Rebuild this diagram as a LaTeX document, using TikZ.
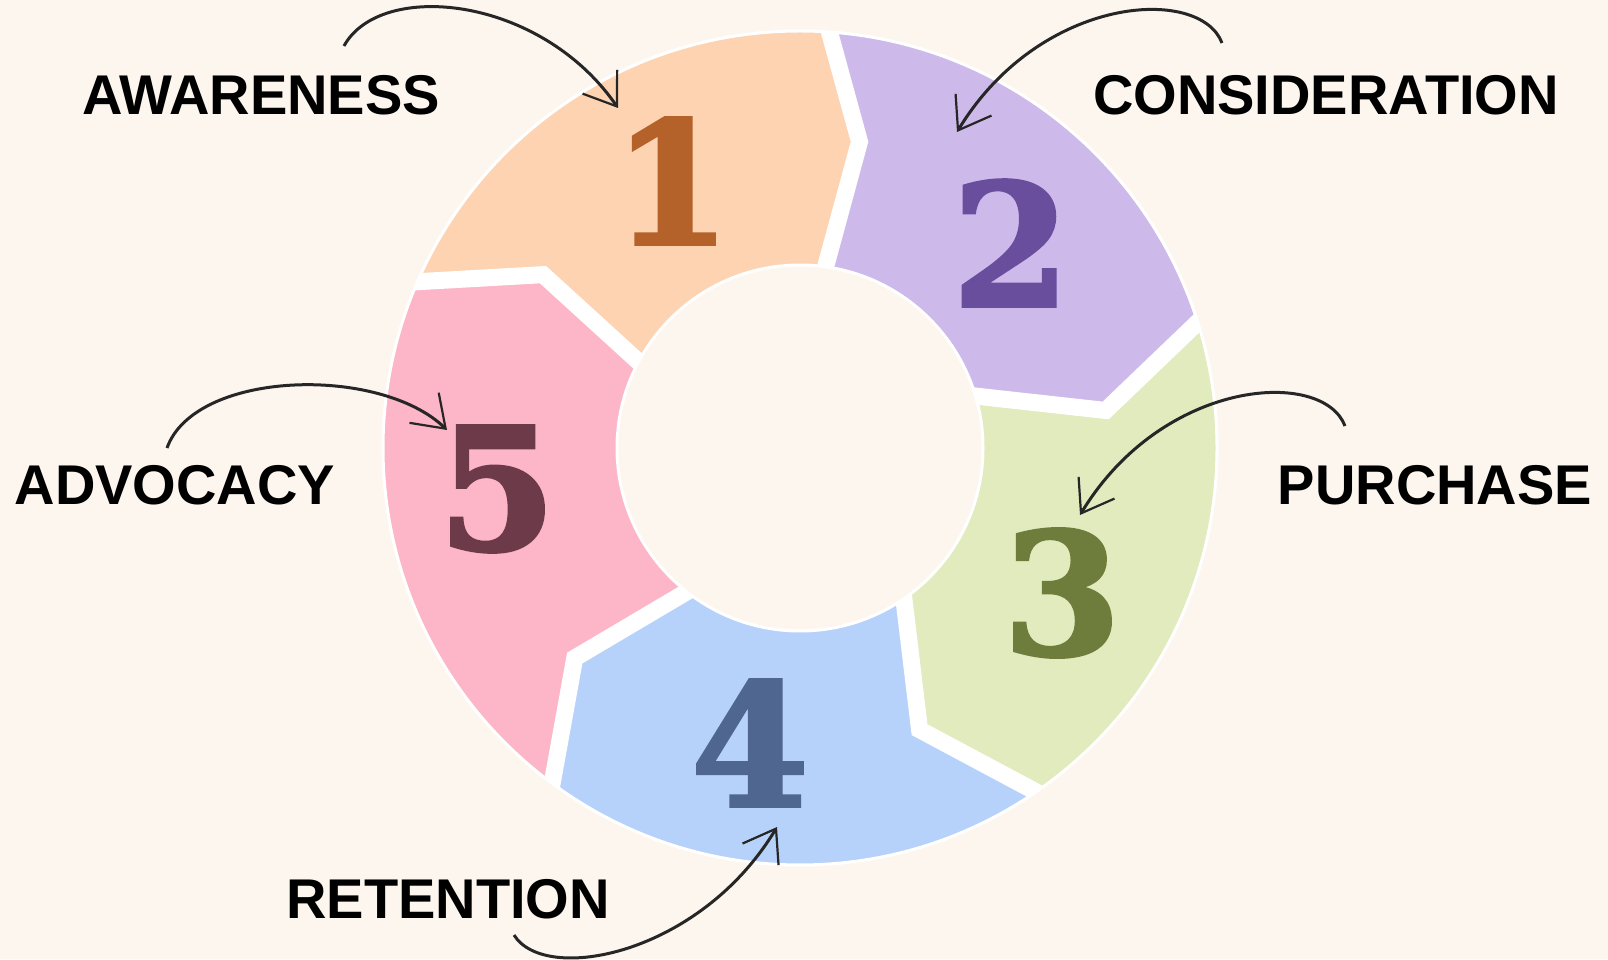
\documentclass[tikz,border=0pt]{standalone}
\usepackage{fontspec}
\usetikzlibrary{arrows.meta}
\setmainfont{Liberation Sans}
\newfontfamily\digitfont{DejaVu Serif}[BoldFeatures={FakeBold=2}]
\definecolor{paper}{HTML}{FDF6EF}
\definecolor{peach}{HTML}{FDD3B2}
\definecolor{lilac}{HTML}{CDBAEB}
\definecolor{sage}{HTML}{E1EBBE}
\definecolor{sky}{HTML}{B7D2FA}
\definecolor{rose}{HTML}{FDB5C8}
\definecolor{peachdark}{HTML}{B4622A}
\definecolor{lilacdark}{HTML}{6A4E9E}
\definecolor{sagedark}{HTML}{6E7D3C}
\definecolor{skydark}{HTML}{4E6690}
\definecolor{rosedark}{HTML}{6D3A4A}

\begin{document}
\begin{tikzpicture}[x=1pt,y=1pt]
\tikzset{Seam/.style={draw=white,line width=17pt,line join=miter}}
\tikzset{Rim/.style={draw=white,line width=3pt}}
\tikzset{Digit/.style={inner sep=0pt,font=\digitfont\bfseries\fontsize{170}{170}\selectfont}}
\tikzset{Stage/.style={inner sep=0pt,font=\bfseries\fontsize{56}{60}\selectfont}}
\tikzset{Pointer/.style={draw=black!85,line width=3pt,-{Straight Barb[length=30pt,width=42pt,line width=2.2pt]}}}
\useasboundingbox (0,0) rectangle (1608,959);
\fill[paper] (0,0) rectangle (1608,959);
\begin{scope}[shift={(800,511)}]
\fill[peach] (158:440pt) arc[start angle=158,end angle=87,radius=440pt] -- (79:312pt) -- (83:160pt) arc[start angle=83,end angle=154,radius=160pt] -- (146:310pt) -- cycle;
\fill[lilac] (87:440pt) arc[start angle=87,end angle=19,radius=440pt] -- (7:308pt) -- (20:160pt) arc[start angle=20,end angle=83,radius=160pt] -- (79:312pt) -- cycle;
\fill[sage] (19:440pt) arc[start angle=19,end angle=-54,radius=440pt] -- (-67:306pt) -- (-51:160pt) arc[start angle=-51,end angle=20,radius=160pt] -- (7:308pt) -- cycle;
\fill[sky] (-54:440pt) arc[start angle=-54,end angle=-125,radius=440pt] -- (-137:308pt) -- (-125:160pt) arc[start angle=-125,end angle=-51,radius=160pt] -- (-67:306pt) -- cycle;
\fill[rose] (235:440pt) arc[start angle=235,end angle=158,radius=440pt] -- (146:310pt) -- (154:160pt) arc[start angle=154,end angle=235,radius=160pt] -- (223:308pt) -- cycle;
\draw[Seam] (87:440pt) -- (79:312pt) -- (83:160pt);
\draw[Seam] (19:440pt) -- (7:308pt) -- (20:160pt);
\draw[Seam] (-54:440pt) -- (-67:306pt) -- (-51:160pt);
\draw[Seam] (-125:440pt) -- (-137:308pt) -- (-125:160pt);
\draw[Seam] (158:440pt) -- (146:310pt) -- (154:160pt);
\draw[paper,line width=40pt] (0,0) circle[radius=437pt];
\fill[paper] (0,0) circle[radius=183pt];
\draw[Rim] (0,0) circle[radius=417pt];
\draw[Rim] (0,0) circle[radius=183pt];
\end{scope}
\node[Digit,text=peachdark] (one) at (672,778) {1};
\node[Digit,text=lilacdark] (two) at (1011,716) {2};
\node[Digit,text=sagedark] (three) at (1062,366) {3};
\node[Digit,text=skydark] (four) at (750,216) {4};
\node[Digit,text=rosedark] (five) at (497,470) {5};
\node[Stage] (aware) at (261,864) {AWARENESS};
\node[Stage] (consider) at (1326,864) {CONSIDERATION};
\node[Stage] (purchase) at (1435,474) {PURCHASE};
\node[Stage] (retain) at (448,60) {RETENTION};
\node[Stage] (advocate) at (175,474) {ADVOCACY};
\coordinate (aware-from) at (344,913);
\coordinate (aware-to) at (618,851);
\coordinate (consider-from) at (1222,916);
\coordinate (consider-to) at (957,827);
\coordinate (purchase-from) at (1345,533);
\coordinate (purchase-to) at (1080,444);
\coordinate (retain-from) at (514,24);
\coordinate (retain-to) at (777,132);
\coordinate (advocate-from) at (167,511);
\coordinate (advocate-to) at (447,529);
\draw[Pointer] (aware-from) .. controls +(36,66) and +(-78,113) .. (aware-to);
\draw[Pointer] (consider-from) .. controls +(-22,58) and +(83,137) .. (consider-to);
\draw[Pointer] (purchase-from) .. controls +(-22,58) and +(83,137) .. (purchase-to);
\draw[Pointer] (retain-from) .. controls +(31,-50) and +(-77,-128) .. (retain-to);
\draw[Pointer] (advocate-from) .. controls +(28,78) and +(-67,65) .. (advocate-to);
\end{tikzpicture}
\end{document}
